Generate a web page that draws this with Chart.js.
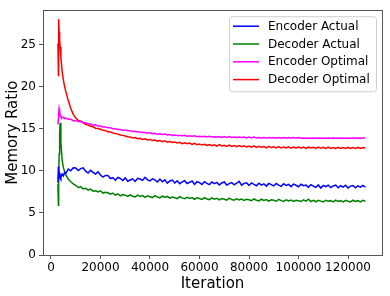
<!DOCTYPE html>
<html lang="en">
<head>
<meta charset="UTF-8">
<title>Memory Ratio vs Iteration</title>
<script src="https://cdn.jsdelivr.net/npm/chart.js"></script>
<style>
  html, body { margin: 0; padding: 0; background: #fff; }
  #wrap { width: 390px; height: 296px; }
</style>
</head>
<body>
<div id="wrap"><canvas id="memChart" width="390" height="296"></canvas></div>
<script>
// iterations: dense at the start, then every 1000
const iterations = [
  2800, 3000, 3100, 3300, 3500, 3700, 4000, 4500, 5000, 5500, 6000, 7000, 8000, 9000,
  10000, 11000, 12000, 13000, 14000, 15000, 16000, 17000, 18000, 19000,
  20000, 21000, 22000, 23000, 24000, 25000, 26000, 27000, 28000, 29000,
  30000, 31000, 32000, 33000, 34000, 35000, 36000, 37000, 38000, 39000,
  40000, 41000, 42000, 43000, 44000, 45000, 46000, 47000, 48000, 49000,
  50000, 51000, 52000, 53000, 54000, 55000, 56000, 57000, 58000, 59000,
  60000, 61000, 62000, 63000, 64000, 65000, 66000, 67000, 68000, 69000,
  70000, 71000, 72000, 73000, 74000, 75000, 76000, 77000, 78000, 79000,
  80000, 81000, 82000, 83000, 84000, 85000, 86000, 87000, 88000, 89000,
  90000, 91000, 92000, 93000, 94000, 95000, 96000, 97000, 98000, 99000,
  100000, 101000, 102000, 103000, 104000, 105000, 106000, 107000, 108000, 109000,
  110000, 111000, 112000, 113000, 114000, 115000, 116000, 117000, 118000, 119000,
  120000, 121000, 122000, 123000, 124000, 125000, 126000, 127000
];

const encoderActual = [
  8.6, 10.5, 9.0, 9.6, 9.1, 9.5, 9.2, 9.6, 9.4, 9.8, 9.7, 10.2, 10.0, 10.35,
  10.32, 10.02, 10.25, 10.35, 9.95, 9.73, 10.05, 9.8, 9.6, 9.87,
  9.5, 9.25, 9.45, 9.43, 9.08, 9.18, 8.88, 9.21, 9.08, 8.84,
  9.15, 8.75, 8.9, 9.04, 8.73, 9.1, 9.02, 8.86, 9.22, 8.92,
  8.8, 9.05, 8.92, 8.67, 9.02, 8.7, 8.92, 8.53, 8.79, 8.9,
  8.55, 8.8, 8.47, 8.68, 8.82, 8.49, 8.63, 8.78, 8.4, 8.7,
  8.6, 8.38, 8.7, 8.5, 8.35, 8.66, 8.48, 8.62, 8.3, 8.55,
  8.67, 8.3, 8.48, 8.6, 8.33, 8.52, 8.75, 8.3, 8.5, 8.58,
  8.25, 8.55, 8.38, 8.22, 8.52, 8.3, 8.45, 8.18, 8.5, 8.35,
  8.2, 8.48, 8.3, 8.15, 8.45, 8.25, 8.38, 8.12, 8.42, 8.28,
  8.1, 8.4, 8.22, 8.3, 8.05, 8.35, 8.18, 8.02, 8.32, 7.95,
  8.25, 8.12, 8.3, 8.0, 8.2, 8.3, 7.98, 8.22, 8.05, 8.28,
  7.95, 8.18, 8.25, 7.98, 8.2, 8.05, 8.25, 8.05
];

const decoderActual = [
  8.4, 5.9, 9.0, 12.0, 14.5, 15.7, 13.3, 11.3, 10.4, 9.9, 9.5, 9.0, 8.7, 8.45,
  8.28, 8.0, 8.12, 7.85, 7.92, 7.7, 7.82, 7.58, 7.62, 7.48,
  7.62, 7.35, 7.45, 7.38, 7.22, 7.35, 7.12, 7.25, 7.02, 7.18,
  7.1, 6.95, 7.15, 6.98, 6.9, 7.1, 6.95, 7.06, 6.85, 7.02,
  6.92, 6.82, 7.05, 6.88, 6.78, 6.98, 6.85, 6.95, 6.75, 6.88,
  6.8, 6.7, 6.92, 6.78, 6.68, 6.85, 6.72, 6.82, 6.62, 6.8,
  6.7, 6.6, 6.82, 6.65, 6.58, 6.78, 6.62, 6.72, 6.55, 6.7,
  6.62, 6.52, 6.75, 6.58, 6.5, 6.68, 6.55, 6.65, 6.48, 6.62,
  6.55, 6.45, 6.65, 6.5, 6.42, 6.62, 6.48, 6.58, 6.4, 6.56,
  6.5, 6.38, 6.6, 6.45, 6.36, 6.55, 6.42, 6.52, 6.35, 6.5,
  6.45, 6.35, 6.55, 6.4, 6.62, 6.35, 6.48, 6.32, 6.5, 6.4,
  6.3, 6.5, 6.38, 6.45, 6.3, 6.52, 6.35, 6.45, 6.3, 6.48,
  6.38, 6.3, 6.5, 6.35, 6.45, 6.3, 6.48, 6.38
];

const encoderOptimal = [
  15.5, 16.2, 16.8, 17.4, 17.1, 16.6, 16.4, 16.3, 16.35, 16.2, 16.25, 16.1, 16.1, 15.95,
  15.95, 15.85, 15.85, 15.7, 15.7, 15.55, 15.55, 15.4, 15.45, 15.3,
  15.3, 15.2, 15.2, 15.1, 15.1, 15.0, 15.0, 14.9, 14.9, 14.8,
  14.85, 14.75, 14.75, 14.65, 14.7, 14.6, 14.6, 14.55, 14.55, 14.45,
  14.5, 14.4, 14.45, 14.35, 14.4, 14.3, 14.35, 14.25, 14.3, 14.2,
  14.25, 14.2, 14.2, 14.15, 14.2, 14.1, 14.15, 14.1, 14.15, 14.05,
  14.1, 14.05, 14.1, 14.0, 14.1, 14.0, 14.05, 14.0, 14.05, 13.95,
  14.05, 13.95, 14.05, 13.95, 14.0, 13.95, 14.0, 13.95, 14.0, 13.9,
  14.0, 13.9, 14.0, 13.9, 13.95, 13.9, 13.95, 13.9, 13.95, 13.9,
  13.95, 13.85, 13.95, 13.85, 13.95, 13.85, 13.95, 13.85, 13.95, 13.85,
  13.95, 13.85, 13.9, 13.85, 13.9, 13.85, 13.9, 13.85, 13.9, 13.85,
  13.9, 13.85, 13.9, 13.85, 13.9, 13.85, 13.9, 13.85, 13.9, 13.85,
  13.9, 13.85, 13.9, 13.85, 13.9, 13.85, 13.9, 13.88
];

const decoderOptimal = [
  25.1, 21.3, 28.0, 26.5, 25.5, 24.7, 23.5, 21.8, 20.8, 20.0, 19.4, 18.3, 17.4, 16.7,
  16.25, 15.98, 15.88, 15.72, 15.5, 15.42, 15.28, 15.22, 15.05, 15.02,
  14.92, 14.8, 14.78, 14.62, 14.6, 14.5, 14.42, 14.35, 14.25, 14.2,
  14.12, 14.05, 14.02, 13.9, 13.95, 13.8, 13.85, 13.72, 13.8, 13.65,
  13.72, 13.6, 13.65, 13.52, 13.58, 13.45, 13.55, 13.4, 13.48, 13.35,
  13.42, 13.3, 13.38, 13.22, 13.32, 13.2, 13.28, 13.12, 13.25, 13.1,
  13.18, 13.05, 13.15, 13.0, 13.12, 12.98, 13.08, 12.92, 13.1, 12.95,
  13.02, 12.9, 13.05, 12.88, 12.98, 12.85, 13.0, 12.85, 12.95, 12.82,
  12.92, 12.8, 12.95, 12.78, 12.9, 12.8, 12.88, 12.72, 12.9, 12.75,
  12.85, 12.72, 12.88, 12.7, 12.82, 12.72, 12.85, 12.68, 12.8, 12.7,
  12.82, 12.68, 12.8, 12.65, 12.8, 12.7, 12.78, 12.65, 12.8, 12.68,
  12.78, 12.65, 12.8, 12.66, 12.76, 12.64, 12.78, 12.65, 12.75, 12.66,
  12.78, 12.64, 12.76, 12.66, 12.78, 12.64, 12.75, 12.7
];

const seriesNames = ['Encoder Actual', 'Decoder Actual', 'Encoder Optimal', 'Decoder Optimal'];
const seriesColors = ['#0000ff', '#008000', '#ff00ff', '#ff0000'];
const xTicks = [0, 20000, 40000, 60000, 80000, 100000, 120000];
const yTicks = [0, 5, 10, 15, 20, 25];

const FONT = "'DejaVu Sans', sans-serif";

function toPoints(vals) {
  return vals.map((v, i) => ({ x: iterations[i], y: v }));
}

// matplotlib style box around the plot area + legend inside it
const boxAndLegend = {
  id: 'boxAndLegend',
  afterDraw(chart) {
    const ctx = chart.ctx;
    const a = chart.chartArea;
    ctx.save();
    ctx.strokeStyle = '#555';
    ctx.lineWidth = 1;
    ctx.strokeRect(Math.round(a.left) + 0.5, Math.round(a.top) + 0.5,
                   Math.round(a.right - a.left), Math.round(a.bottom - a.top));

    // legend box
    const bx = a.right - 153, by = a.top + 6, bw = 147, bh = 75;
    ctx.fillStyle = 'rgba(255,255,255,0.8)';
    ctx.strokeStyle = '#d0d0d0';
    ctx.beginPath();
    ctx.roundRect(bx + 0.5, by + 0.5, bw, bh, 3);
    ctx.fill();
    ctx.stroke();

    ctx.font = '12px ' + FONT;
    ctx.textBaseline = 'middle';
    ctx.fillStyle = '#000';
    chart.data.datasets.forEach((ds, i) => {
      const y = by + 10 + i * 17.8;
      ctx.strokeStyle = ds.borderColor;
      ctx.lineWidth = 1.5;
      ctx.beginPath();
      ctx.moveTo(bx + 4, y);
      ctx.lineTo(bx + 30, y);
      ctx.stroke();
      ctx.fillText(ds.label, bx + 39, y + 0.5);
    });
    ctx.restore();
  }
};

const datasets = [encoderActual, decoderActual, encoderOptimal, decoderOptimal].map((vals, i) => ({
  label: seriesNames[i],
  data: toPoints(vals),
  borderColor: seriesColors[i],
  backgroundColor: seriesColors[i],
  borderWidth: 1.5,
  pointRadius: 0,
  tension: 0,
  fill: false
}));

new Chart(document.getElementById('memChart'), {
  type: 'line',
  data: { datasets: datasets },
  options: {
    responsive: false,
    animation: false,
    layout: { padding: { left: 0, right: 8, top: 8, bottom: 0 } },
    plugins: {
      legend: { display: false },
      tooltip: { enabled: false }
    },
    scales: {
      x: {
        type: 'linear',
        min: -3225,
        max: 133725,
        afterBuildTicks: s => { s.ticks = xTicks.map(v => ({ value: v })); },
        afterFit: s => { s.height = 41; },
        grid: { drawOnChartArea: false, drawTicks: true, tickLength: 4, color: '#555' },
        border: { display: false },
        ticks: {
          color: '#000', padding: 2, maxRotation: 0, autoSkip: false,
          font: { family: FONT, size: 12 },
          callback: v => String(v)
        },
        title: {
          display: true, text: 'Iteration', color: '#000',
          font: { family: FONT, size: 15 }, padding: { top: 0, bottom: 3 }
        }
      },
      y: {
        type: 'linear',
        min: 0,
        max: 29.06,
        afterBuildTicks: s => { s.ticks = yTicks.map(v => ({ value: v })); },
        afterFit: s => { s.width = 43; },
        grid: { drawOnChartArea: false, drawTicks: true, tickLength: 4, color: '#555' },
        border: { display: false },
        ticks: {
          color: '#000', padding: 3,
          font: { family: FONT, size: 12 },
          callback: v => String(v)
        },
        title: {
          display: true, text: 'Memory Ratio', color: '#000',
          font: { family: FONT, size: 15 }, padding: { top: 4, bottom: 0 }
        }
      }
    }
  },
  plugins: [boxAndLegend]
});
</script>
</body>
</html>
